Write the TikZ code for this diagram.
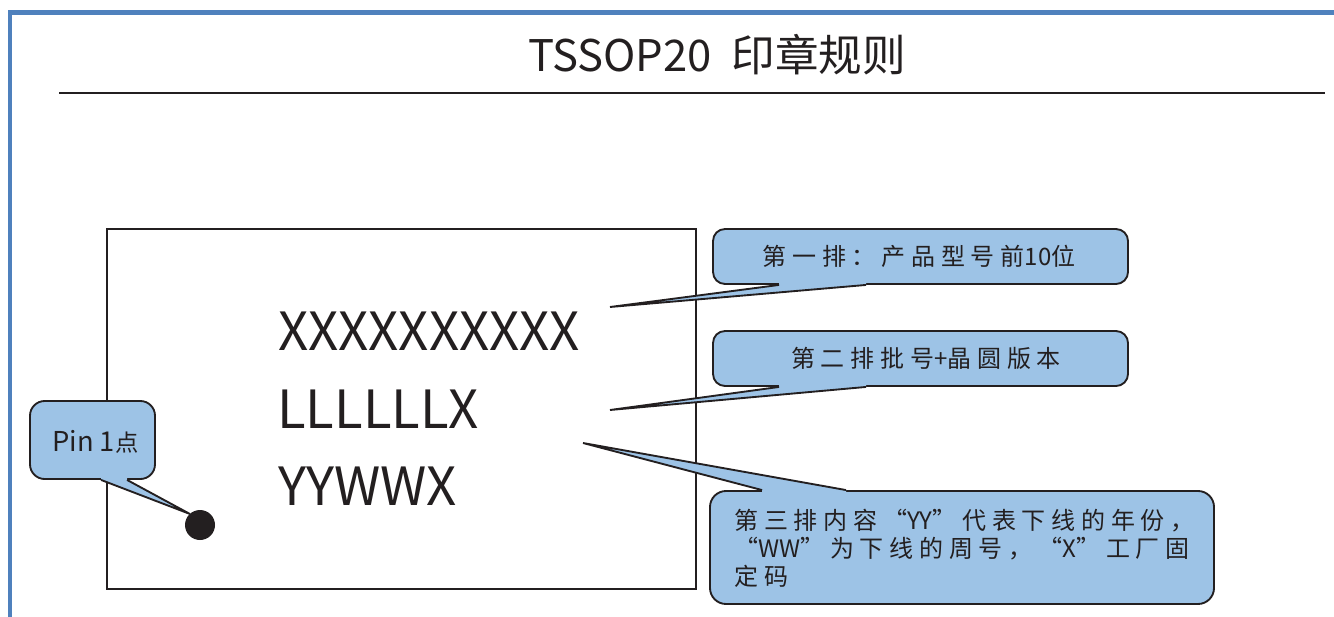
\documentclass[tikz,border=0pt]{standalone}
\usepackage{fontspec}
\setmainfont{Noto Sans CJK SC}
\newfontfamily\cjkls[LetterSpace=24]{Noto Sans CJK SC}
\newfontfamily\cjkplain{Noto Sans CJK SC}
\newcommand{\lat}[1]{{\cjkplain #1}}
\usetikzlibrary{calc}
\definecolor{ink}{HTML}{231F20}
\definecolor{frameblue}{HTML}{4F81BD}
\definecolor{calfill}{HTML}{9DC3E6}
\tikzset{
  box/.style={draw=ink, fill=calfill, line width=1.4pt, rounded corners=9pt, inner sep=0pt},
  tailline/.style={draw=ink, line width=1.4pt, line join=miter},
  calltext/.style={text=ink, inner sep=0pt, font=\cjkls\fontsize{18pt}{21pt}\selectfont},
  marktext/.style={text=ink, inner sep=0pt, anchor=base west, font=\fontsize{39.5pt}{40pt}\selectfont}
}
\begin{document}
\begin{tikzpicture}[x=0.75pt, y=-0.75pt]
\useasboundingbox (0,0) rectangle (1334,617);
% outer frame
\draw[frameblue, line width=3.7pt, line join=miter] (10,620) -- (10,12.5) -- (1340,12.5);
% title
\node[text=ink, inner sep=0pt, anchor=base, font=\fontsize{32.7pt}{33pt}\selectfont] (title) at (717,72) {TSSOP20\hspace{0.45em}印章规则};
\draw[ink, line width=1pt] (59,93) -- (1325,93);
% chip
\node[draw=ink, line width=1.5pt, minimum width=441.75pt, minimum height=270pt, inner sep=0pt] (chip) at (401.5,409) {};
\node[marktext] (l1) at (278,350) {XXXXXXXXXX};
\node[marktext] (l2) at (277,428) {LLLLLLX};
\node[marktext] (l3) at (278,505) {YYWWX};
\node[circle, fill=ink, minimum size=22.5pt, inner sep=0pt] (dot) at (200,525) {};
% tips
\coordinate (tp) at (190,514);
\coordinate (t1) at (610,307);
\coordinate (t2) at (610,410);
\coordinate (t3) at (583,443);
% pin callout
\node[box, rounded corners=11pt, minimum width=93.75pt, minimum height=58.5pt] (cp) at (92.5,440) {};
\node[text=ink, inner sep=0pt, anchor=base west, font=\fontsize{20.5pt}{21pt}\selectfont] (cpt) at (52,451) {Pin 1{\fontsize{17.5pt}{18pt}\selectfont 点}};
\coordinate (cpa) at ($(cp.south west)+(72,0)$);
\coordinate (cpb) at ($(cp.south west)+(98,0)$);
\fill[calfill] ($(cpa)+(0,-4)$) -- ($(cpb)+(0,-4)$) -- (cpb) -- (tp) -- (cpa) -- cycle;
\draw[tailline] (cpa) -- (tp) -- (cpb);
% callout 1
\node[box, minimum width=311.25pt, minimum height=41.25pt] (c1) at (920.5,256.5) {};
\node[calltext] (c1t) at (919,256) {第一排：产品型号前\lat{10}位};
\coordinate (c1a) at ($(c1.south west)+(67,0)$);
\coordinate (c1b) at ($(c1.south west)+(154,0)$);
\fill[calfill] ($(c1a)+(0,-4)$) -- ($(c1b)+(0,-4)$) -- (c1b) -- (t1) -- (c1a) -- cycle;
\draw[tailline] (c1a) -- (t1) -- (c1b);
% callout 2
\node[box, minimum width=311.25pt, minimum height=41.25pt] (c2) at (920.5,358.5) {};
\node[calltext] (c2t) at (926,358) {第二排批号\lat{+}晶圆版本};
\coordinate (c2a) at ($(c2.south west)+(67,0)$);
\coordinate (c2b) at ($(c2.south west)+(154,0)$);
\fill[calfill] ($(c2a)+(0,-4)$) -- ($(c2b)+(0,-4)$) -- (c2b) -- (t2) -- (c2a) -- cycle;
\draw[tailline] (c2a) -- (t2) -- (c2b);
% callout 3
\node[box, rounded corners=12pt, minimum width=378pt, minimum height=84.75pt] (c3) at (962,547.5) {};
\node[calltext, anchor=north west, align=left] (c3t) at (734,509) {第三排内容“\lat{YY}”代表下线的年份，\\“\lat{WW}”为下线的周号，“\lat{X}”工厂固\\定码};
\coordinate (c3a) at ($(c3.north west)+(53,0)$);
\coordinate (c3b) at ($(c3.north west)+(137,0)$);
\fill[calfill] ($(c3a)+(0,4)$) -- ($(c3b)+(0,4)$) -- (c3b) -- (t3) -- (c3a) -- cycle;
\draw[tailline] (c3a) -- (t3) -- (c3b);
\end{tikzpicture}
\end{document}
